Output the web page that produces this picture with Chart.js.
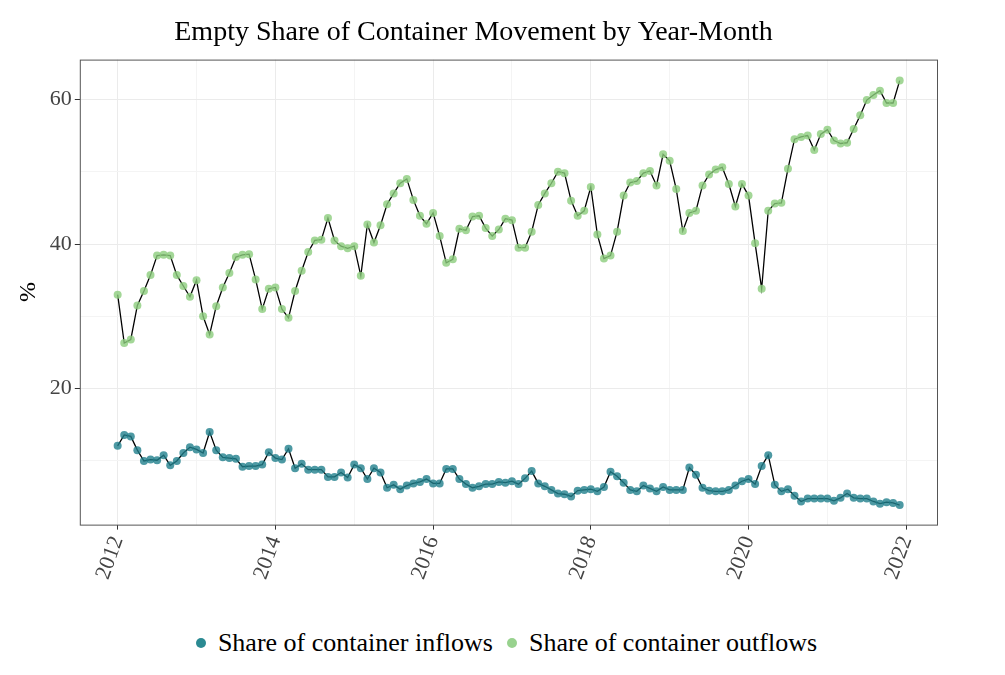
<!DOCTYPE html>
<html lang="en">
<head>
  <meta charset="UTF-8">
  <title>Empty Share of Container Movement</title>
  <script src="https://cdn.jsdelivr.net/npm/chart.js"></script>
  <style>
    body { margin: 0; background: #fff; font-family: "Liberation Serif", serif; }
    #wrap { position: relative; width: 1005px; height: 600px; }
    #legend { display: flex; justify-content: center; align-items: center; margin-top: 28px; font-size: 26px; color: #000; }
    .dot { display: inline-block; width: 10px; height: 10px; border-radius: 50%; margin: 0 12px 0 8px; }
  </style>
</head>
<body>
  <div id="wrap"><canvas id="chart" width="1005" height="600"></canvas></div>
  <div id="legend">
    <span class="dot" style="background:#2b8a92"></span>Share of container inflows
    <span class="dot" style="background:#98d28e;margin-left:14px"></span>Share of container outflows
  </div>
  <script>
    const startYear = 2012;
    const inflows = [
      12.1, 13.6, 13.4, 11.5, 10.0, 10.2, 10.1, 10.8, 9.4, 10.0, 11.1, 11.9,
      11.6, 11.1, 14.0, 11.5, 10.5, 10.4, 10.3, 9.2, 9.3, 9.3, 9.5, 11.2,
      10.4, 10.2, 11.7, 9.0, 9.6, 8.8, 8.8, 8.8, 7.8, 7.8, 8.4, 7.7,
      9.5, 9.0, 7.5, 9.0, 8.4, 6.3, 6.7, 6.1, 6.6, 6.9, 7.1, 7.5,
      6.9, 6.9, 8.9, 8.9, 7.5, 6.8, 6.3, 6.5, 6.8, 6.8, 7.1, 7.0,
      7.2, 6.8, 7.6, 8.6, 6.9, 6.5, 6.0, 5.5, 5.4, 5.1, 5.9, 6.0,
      6.1, 5.8, 6.4, 8.5, 7.9, 7.0, 6.0, 5.8, 6.6, 6.2, 5.8, 6.4,
      6.0, 6.0, 6.0, 9.1, 8.1, 6.3, 5.9, 5.8, 5.8, 6.0, 6.6, 7.2,
      7.5, 6.8, 9.3, 10.8, 6.7, 5.8, 6.1, 5.2, 4.4, 4.8, 4.8, 4.8,
      4.8, 4.5, 4.9, 5.5, 4.9, 4.8, 4.8, 4.4, 4.1, 4.3, 4.2, 3.9
    ];
    const outflows = [
      33.0, 26.3, 26.8, 31.5, 33.5, 35.7, 38.4, 38.5, 38.4, 35.7, 34.2, 32.7,
      35.0, 30.0, 27.5, 31.4, 34.0, 36.0, 38.2, 38.5, 38.6, 35.1, 31.0, 33.8,
      34.0, 31.0, 29.8, 33.5, 36.3, 38.9, 40.5, 40.6, 43.6, 40.5, 39.7, 39.4,
      39.7, 35.6, 42.7, 40.2, 42.6, 45.5, 47.0, 48.4, 49.0, 46.1, 43.9, 42.8,
      44.3, 41.1, 37.4, 37.9, 42.1, 41.9, 43.8, 43.9, 42.2, 41.1, 42.0, 43.5,
      43.3, 39.5, 39.5, 41.7, 45.4, 47.0, 48.4, 50.0, 49.8, 46.0, 43.9, 44.6,
      47.9, 41.3, 38.0, 38.4, 41.7, 46.7, 48.5, 48.7, 49.8, 50.1, 48.1, 52.4,
      51.5, 47.6, 41.8, 44.3, 44.6, 48.1, 49.6, 50.3, 50.6, 48.3, 45.2, 48.3,
      46.7, 40.1, 33.8, 44.6, 45.6, 45.7, 50.4, 54.5, 54.8, 55.0, 53.0, 55.2,
      55.8, 54.3, 53.9, 54.0, 55.9, 57.8, 59.9, 60.6, 61.2, 59.5, 59.5, 62.6
    ];
    const xTicks = [2012, 2013, 2014, 2015, 2016, 2017, 2018, 2019, 2020, 2021, 2022];
    const yTicks = [10, 20, 30, 40, 50, 60];

    const toPoints = arr => arr.map((v, i) => ({ x: startYear + i / 12, y: v }));

    const serif = '"Liberation Serif", "DejaVu Serif", serif';

    const frame = {
      id: 'frame',
      afterDraw(c) {
        const a = c.chartArea, g = c.ctx;
        g.save();
        g.strokeStyle = '#555';
        g.lineWidth = 1;
        g.strokeRect(a.left + 0.5, a.top + 0.5, a.right - a.left, a.bottom - a.top);
        g.restore();
      }
    };

    new Chart(document.getElementById('chart'), {
      type: 'scatter',
      data: {
        datasets: [
          { label: 'Share of container inflows', data: toPoints(inflows), showLine: true,
            borderColor: '#000', borderWidth: 1.3, pointRadius: 4, pointBorderWidth: 0,
            pointBackgroundColor: 'rgba(32,128,140,0.8)' },
          { label: 'Share of container outflows', data: toPoints(outflows), showLine: true,
            borderColor: '#000', borderWidth: 1.3, pointRadius: 4, pointBorderWidth: 0,
            pointBackgroundColor: 'rgba(140,205,125,0.8)' }
        ]
      },
      options: {
        responsive: false,
        animation: false,
        layout: { padding: { left: 10, right: 68, top: 4, bottom: 14 } },
        plugins: {
          legend: { display: false },
          tooltip: { enabled: false },
          title: { display: true, text: 'Empty Share of Container Movement by Year-Month',
            font: { family: serif, size: 28, weight: 'normal' }, color: '#000',
            padding: { top: 12, bottom: 10 } }
        },
        scales: {
          x: {
            type: 'linear', min: 2011.52, max: 2022.39,
            afterBuildTicks: s => { s.ticks = xTicks.map(v => ({ value: v })); },
            grid: { color: ctx => ctx.tick && ctx.tick.value % 2 === 0 ? '#ebebeb' : '#f4f4f4',
              tickColor: ctx => ctx.tick && ctx.tick.value % 2 === 0 ? '#333' : 'rgba(0,0,0,0)', tickLength: 5 },
            border: { display: false },
            ticks: { autoSkip: false, maxRotation: 70, minRotation: 70,
              callback: v => v % 2 === 0 ? String(v) : '',
              font: { family: serif, size: 22 }, color: '#444' }
          },
          y: {
            min: 1.2, max: 65.5,
            afterBuildTicks: s => { s.ticks = yTicks.map(v => ({ value: v })); },
            grid: { color: ctx => ctx.tick && ctx.tick.value % 20 === 0 ? '#ebebeb' : '#f4f4f4', tickColor: ctx => ctx.tick && ctx.tick.value % 20 === 0 ? '#333' : 'rgba(0,0,0,0)', tickLength: 5 },
            border: { display: false },
            title: { display: true, text: '%', font: { family: serif, size: 24 }, color: '#000' },
            ticks: { callback: v => v % 20 === 0 ? String(v) : '',
              font: { family: serif, size: 22 }, color: '#444' }
          }
        }
      },
      plugins: [frame]
    });
  </script>
</body>
</html>
